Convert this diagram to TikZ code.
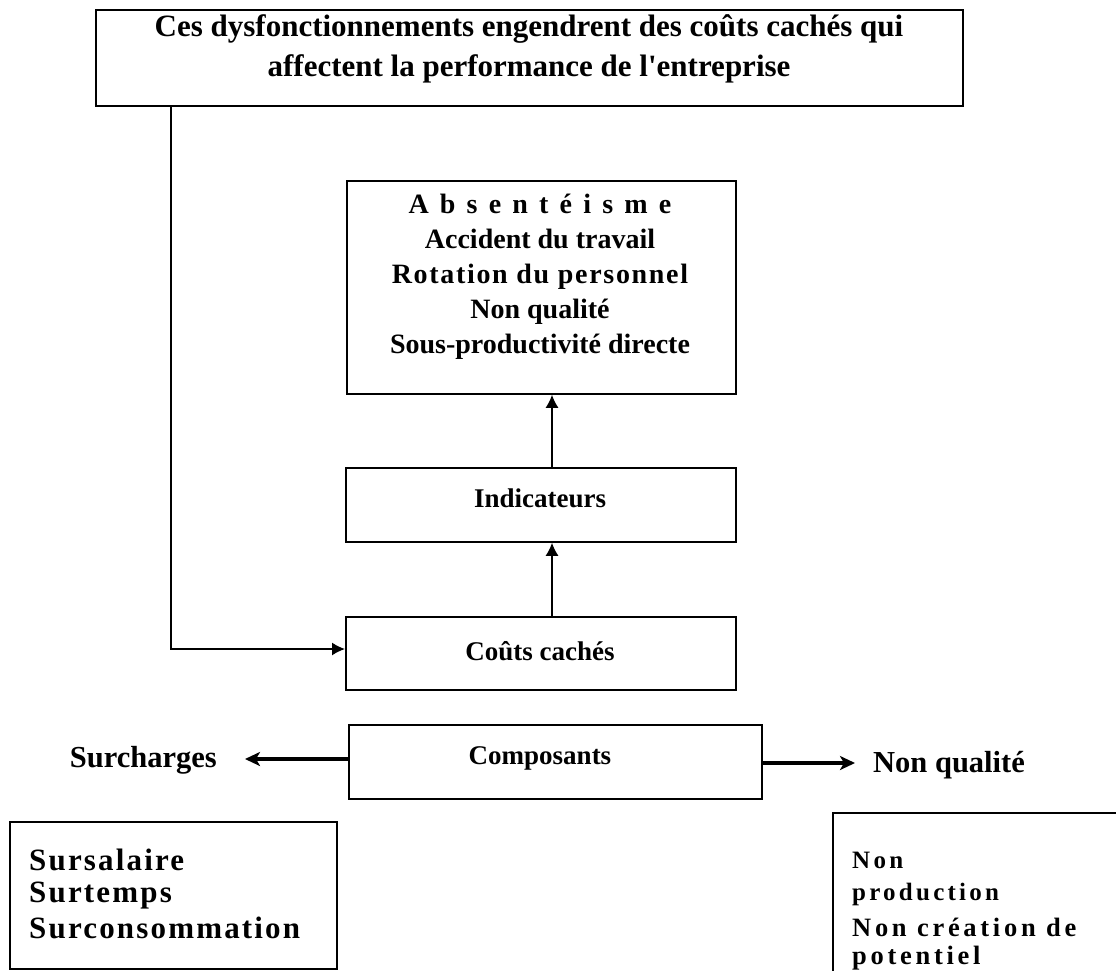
\documentclass[tikz,border=0pt]{standalone}
\usepackage{fontspec}
\setmainfont{Liberation Serif}[Ligatures=TeXOff]
\usetikzlibrary{arrows.meta}
\begin{document}
\begin{tikzpicture}[x=1pt,y=-1pt,
  box/.style={draw, line width=1.8pt, rectangle, inner sep=0pt, anchor=north west},
  txt/.style={anchor=base, inner sep=0pt},
  ftop/.style={font=\fontsize{31}{36}\selectfont\bfseries},
  fmid/.style={font=\fontsize{28}{33}\selectfont\bfseries},
  flab/.style={font=\fontsize{27}{32}\selectfont\bfseries},
  fside/.style={font=\fontsize{30.5}{36}\selectfont\bfseries},
  fleft/.style={font=\fontsize{31}{36}\selectfont\bfseries\addfontfeature{LetterSpace=7}},
  fright/.style={font=\fontsize{25}{30}\selectfont\bfseries\addfontfeature{LetterSpace=13}},
  frightb/.style={font=\fontsize{26.5}{30}\selectfont\bfseries\addfontfeature{LetterSpace=14}},
  conn/.style={line width=1.5pt, -{Latex[length=13pt,width=13pt]}},
  thick conn/.style={line width=3.5pt, -{Stealth[length=15pt,width=14pt,inset=4pt]}}
]
\useasboundingbox (0,0) rectangle (1116,970);
\clip (0,0) rectangle (1116,970);

% boxes
\node[box, minimum width=867pt, minimum height=96pt] (top) at (95,9) {};
\node[box, minimum width=389pt, minimum height=213pt] (mid) at (346,180) {};
\node[box, minimum width=390pt, minimum height=74pt] (ind) at (345,467) {};
\node[box, minimum width=390pt, minimum height=73pt] (cc) at (345,616) {};
\node[box, minimum width=413pt, minimum height=74pt] (comp) at (348,724) {};
\node[box, minimum width=327pt, minimum height=147pt] (left) at (9,821) {};
\node[box, minimum width=400pt, minimum height=200pt] (right) at (832,812) {};

% texts of the upper box
\node[txt, ftop] (t1) at (529,36) {Ces dysfonctionnements engendrent des coûts cachés qui};
\node[txt, ftop] (t2) at (529,76) {affectent la performance de l'entreprise};

% indicator list
\node[txt, fmid] (m1) at (540,213) {\addfontfeature{LetterSpace=15}A b s e n t é i s m e};
\node[txt, fmid] (m2) at (540,248) {Accident du travail};
\node[txt, fmid] (m3) at (540,283) {\addfontfeature{LetterSpace=6}Rotation du personnel};
\node[txt, fmid] (m4) at (540,318) {Non qualité};
\node[txt, fmid] (m5) at (540,353) {Sous-productivité directe};

\node[txt, flab] (indt) at (540,507) {Indicateurs};
\node[txt, flab] (cct) at (540,660) {Coûts cachés};
\node[txt, flab] (compt) at (540,764) {Composants};

\node[txt, fside, anchor=base east] (surch) at (217,767) {Surcharges};
\node[txt, fside, anchor=base west] (nq) at (873,772) {Non qualité};

% lower left list
\node[txt, fleft, anchor=base west] (l1) at (29,870) {Sursalaire};
\node[txt, fleft, anchor=base west] (l2) at (29,902) {Surtemps};
\node[txt, fleft, anchor=base west] (l3) at (29,938) {Surconsommation};

% lower right list
\node[txt, fright, anchor=base west] (r1) at (852,868) {Non};
\node[txt, fright, anchor=base west] (r2) at (852,900) {production};
\node[txt, frightb, anchor=base west] (r3) at (852,936) {Non création de};
\node[txt, frightb, anchor=base west] (r4) at (852,964) {potentiel};

% connectors
\coordinate (bend) at (171,649);
\coordinate (ax) at (552,0);
\draw[conn] (top.south -| bend) -- (bend) -- (bend -| cc.west);
\draw[conn] (cc.north -| ax) -- (ind.south -| ax);
\draw[conn] (ind.north -| ax) -- (mid.south -| ax);
\coordinate (ly) at (0,759);
\coordinate (ry) at (0,763);
\coordinate (ltip) at (245,759);
\coordinate (rtip) at (855,763);
\draw[thick conn] (comp.west |- ly) -- (ltip);
\draw[thick conn] (comp.east |- ry) -- (rtip);
\end{tikzpicture}
\end{document}
